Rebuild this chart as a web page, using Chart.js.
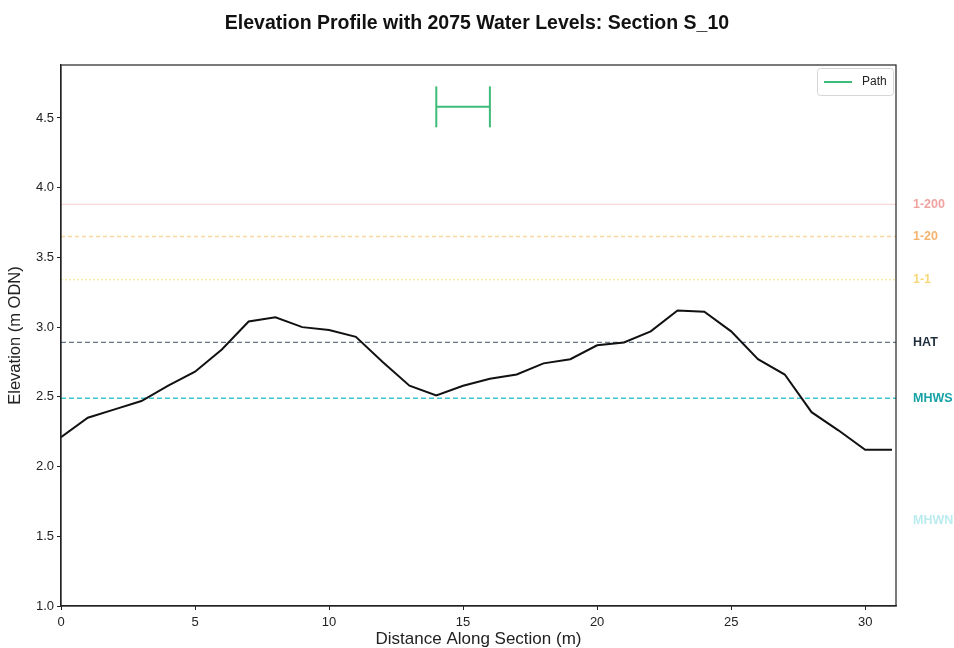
<!DOCTYPE html>
<html lang="en">
<head>
<meta charset="UTF-8">
<title>Elevation Profile S_10</title>
<script src="https://cdn.jsdelivr.net/npm/chart.js"></script>
<style>
  html, body { margin: 0; padding: 0; background: #fff; }
  #wrap { width: 954px; height: 648px; }
</style>
</head>
<body>
<div id="wrap"><canvas id="myChart"></canvas></div>
<script>
// profile along the section (m, m ODN)
const distance = [0,1,2,3,4,5,6,7,8,9,10,11,12,13,14,15,16,17,18,19,20,21,22,23,24,25,26,27,28,29,30,31];
const elevation = [2.21,2.35,2.41,2.47,2.58,2.68,2.84,3.04,3.07,3.00,2.98,2.93,2.75,2.58,2.51,2.58,2.63,2.66,2.74,2.77,2.87,2.89,2.97,3.12,3.11,2.97,2.77,2.66,2.39,2.26,2.12,2.12];

// 2075 water levels
const levelNames = ['1-200', '1-20', '1-1', 'HAT', 'MHWS', 'MHWN'];
const levelValues = [3.88, 3.65, 3.34, 2.89, 2.49, 1.61];

// path marker
const pathX = [14, 16];
const pathY = 4.58;

const xTicks = [0, 5, 10, 15, 20, 25, 30];
const yTicks = [1.0, 1.5, 2.0, 2.5, 3.0, 3.5, 4.0, 4.5];
const xMin = 0, xMax = 31.15, yMin = 1.0, yMax = 4.88;

// styles per level
const levelLine = ['rgba(231,76,60,0.22)', 'rgba(243,156,18,0.4)', 'rgba(241,196,15,0.4)', 'rgba(52,73,94,0.75)', 'rgba(26,188,200,0.85)', 'rgba(26,188,200,0.0)'];
const levelDash = [[], [4, 3], [2, 2], [5, 3], [5, 3], [5, 3]];
const levelText = ['#f0a3a0', '#f5b36e', '#f6d877', '#1f2d3d', '#18a3a8', 'rgba(26,188,200,0.3)'];

const FONT = '"Liberation Sans", Arial, sans-serif';

const levelSets = levelNames.map((n, i) => ({
  label: n,
  data: [{x: xMin, y: levelValues[i]}, {x: xMax, y: levelValues[i]}],
  borderColor: levelLine[i],
  borderDash: levelDash[i],
  borderWidth: 1.3,
  pointRadius: 0,
  order: 3
}));

const extras = {
  id: 'extras',
  afterDraw(chart) {
    const ctx = chart.ctx;
    const a = chart.chartArea;
    const y = chart.scales.y;
    ctx.save();
    // frame
    ctx.strokeStyle = '#222';
    ctx.lineWidth = 1.2;
    ctx.strokeRect(a.left, a.top, a.right - a.left, a.bottom - a.top);
    // level labels on the right
    ctx.font = 'bold 12.5px ' + FONT;
    ctx.textBaseline = 'middle';
    ctx.textAlign = 'left';
    levelNames.forEach((n, i) => {
      ctx.fillStyle = levelText[i];
      ctx.fillText(n, a.right + 17, y.getPixelForValue(levelValues[i]));
    });
    // legend box
    const bx = a.right - 79, by = a.top + 3, bw = 76, bh = 27;
    ctx.fillStyle = 'rgba(255,255,255,0.9)';
    ctx.strokeStyle = '#d6d6d6';
    ctx.lineWidth = 1;
    ctx.beginPath();
    ctx.roundRect(bx + 0.5, by + 0.5, bw, bh, 3);
    ctx.fill();
    ctx.stroke();
    ctx.strokeStyle = '#3dbb78';
    ctx.lineWidth = 2;
    ctx.beginPath();
    ctx.moveTo(bx + 7, by + 14);
    ctx.lineTo(bx + 35, by + 14);
    ctx.stroke();
    ctx.fillStyle = '#222';
    ctx.font = '12px ' + FONT;
    ctx.fillText('Path', bx + 45, by + 14);
    ctx.restore();
  }
};

const config = {
  type: 'line',
  data: {
    datasets: [
      {
        label: 'Profile',
        data: distance.map((d, i) => ({x: d, y: elevation[i]})),
        borderColor: '#111',
        borderWidth: 2,
        pointRadius: 0,
        tension: 0,
        order: 1
      },
      {
        label: 'Path',
        data: pathX.map(x => ({x: x, y: pathY})),
        borderColor: '#3dbb78',
        borderWidth: 2,
        pointStyle: 'line',
        pointRotation: 90,
        pointRadius: 20.5,
        pointBorderWidth: 2,
        pointBorderColor: '#3dbb78',
        order: 2
      },
      ...levelSets
    ]
  },
  plugins: [extras],
  options: {
    responsive: false,
    animation: false,
    layout: { padding: 0 },
    plugins: {
      legend: { display: false },
      tooltip: { enabled: false },
      title: {
        display: true,
        text: 'Elevation Profile with 2075 Water Levels: Section S_10',
        color: '#111',
        font: { family: FONT, size: 19.5, weight: 'bold' },
        padding: { top: 12, bottom: 29.6 }
      }
    },
    scales: {
      x: {
        type: 'linear',
        min: xMin,
        max: xMax,
        afterBuildTicks: s => { s.ticks = xTicks.map(v => ({value: v})); },
        afterFit: s => { s.height = 42; },
        grid: { drawOnChartArea: false, drawTicks: true, tickLength: 4, color: '#222' },
        border: { color: '#222', width: 1.2 },
        ticks: { color: '#222', padding: 5, font: { family: FONT, size: 13 } },
        title: {
          display: true,
          text: 'Distance Along Section (m)',
          color: '#222',
          font: { family: FONT, size: 17 },
          padding: { top: 0, bottom: -2 }
        }
      },
      y: {
        type: 'linear',
        min: yMin,
        max: yMax,
        afterBuildTicks: s => { s.ticks = yTicks.map(v => ({value: v})); },
        afterFit: s => { s.width = 61; },
        grid: { drawOnChartArea: false, drawTicks: true, tickLength: 4, color: '#222' },
        border: { color: '#222', width: 1.2 },
        ticks: {
          color: '#222', padding: 3,
          font: { family: FONT, size: 13 },
          callback: v => Number(v).toFixed(1)
        },
        title: {
          display: true,
          text: 'Elevation (m ODN)',
          color: '#222',
          font: { family: FONT, size: 16.5 },
          padding: { top: 6, bottom: 0 }
        }
      },
      // empty right-hand strip that holds the level labels
      yRight: {
        type: 'linear',
        position: 'right',
        min: yMin,
        max: yMax,
        afterFit: s => { s.width = 58; },
        grid: { display: false },
        border: { display: false },
        ticks: { display: false }
      }
    }
  }
};

const canvas = document.getElementById('myChart');
canvas.width = 954;
canvas.height = 648;
const myChart = new Chart(canvas, config);
</script>
</body>
</html>
